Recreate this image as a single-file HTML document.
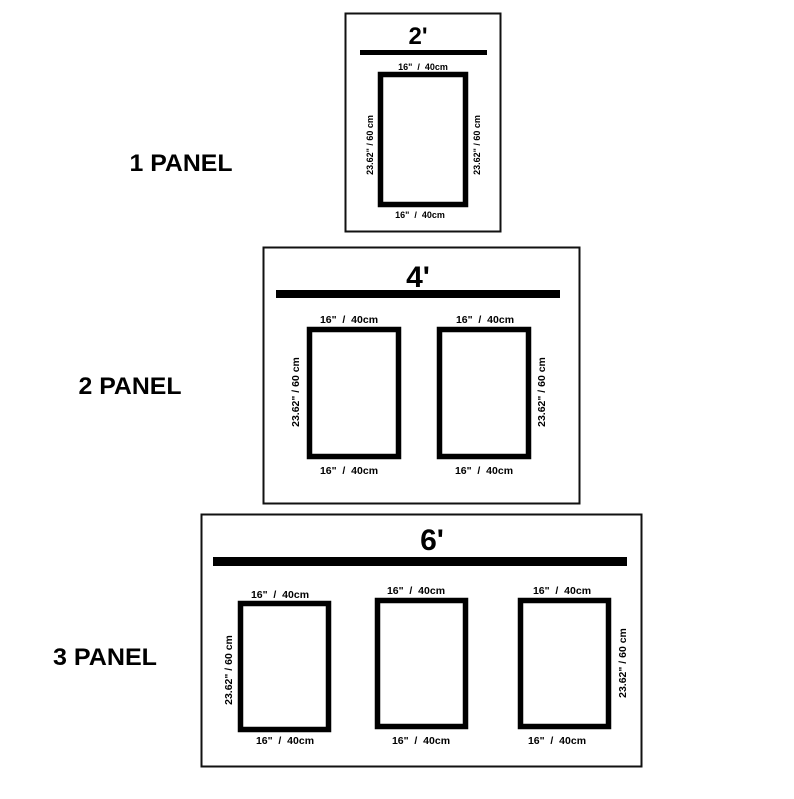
<!DOCTYPE html>
<html><head><style>body{margin:0;background:#fff}text{white-space:pre}</style></head><body>
<svg width="794" height="794" xmlns="http://www.w3.org/2000/svg" font-family="Liberation Sans, sans-serif" font-weight="bold" fill="#000">
<rect width="794" height="794" fill="#fff"/>
<g fill="none" stroke="#111">
<rect x="345.5" y="13.5" width="155" height="218" stroke-width="2"/>
<rect x="263.5" y="247.5" width="316" height="256" stroke-width="2"/>
<rect x="201.5" y="514.5" width="440" height="252" stroke-width="2"/>
<g stroke="#000" stroke-width="5.5">
<rect x="380.5" y="74.5" width="85" height="130"/>
<rect x="309.5" y="329.5" width="89" height="127"/>
<rect x="439.5" y="329.5" width="89" height="127"/>
<rect x="240.5" y="603.5" width="88" height="126"/>
<rect x="377.5" y="600.5" width="88" height="126"/>
<rect x="520.5" y="600.5" width="88" height="126"/>
</g>
</g>
<rect x="360" y="50" width="127" height="5"/>
<rect x="276" y="290" width="284" height="8"/>
<rect x="213" y="557" width="414" height="9"/>
<g text-anchor="middle">
<text x="418" y="44" font-size="24">2'</text>
<text x="418" y="287" font-size="30">4'</text>
<text x="432" y="550" font-size="30">6'</text>
<text x="181" y="171" font-size="24" textLength="103" lengthAdjust="spacingAndGlyphs">1 PANEL</text>
<text x="130" y="394" font-size="24" textLength="103" lengthAdjust="spacingAndGlyphs">2 PANEL</text>
<text x="105" y="665" font-size="24" textLength="104" lengthAdjust="spacingAndGlyphs">3 PANEL</text>
<g font-size="9">
<text x="423" y="70">16"  /  40cm</text>
<text x="420" y="218">16"  /  40cm</text>
<text x="373" y="145" transform="rotate(-90 373 145)">23.62" / 60 cm</text>
<text x="480" y="145" transform="rotate(-90 480 145)">23.62" / 60 cm</text>
</g>
<g font-size="10.5">
<text x="349" y="323">16"  /  40cm</text>
<text x="485" y="323">16"  /  40cm</text>
<text x="349" y="474">16"  /  40cm</text>
<text x="484" y="474">16"  /  40cm</text>
<text x="299" y="392" transform="rotate(-90 299 392)">23.62" / 60 cm</text>
<text x="545" y="392" transform="rotate(-90 545 392)">23.62" / 60 cm</text>
<text x="280" y="598">16"  /  40cm</text>
<text x="416" y="594">16"  /  40cm</text>
<text x="562" y="594">16"  /  40cm</text>
<text x="285" y="744">16"  /  40cm</text>
<text x="421" y="744">16"  /  40cm</text>
<text x="557" y="744">16"  /  40cm</text>
<text x="232" y="670" transform="rotate(-90 232 670)">23.62" / 60 cm</text>
<text x="626" y="663" transform="rotate(-90 626 663)">23.62" / 60 cm</text>
</g>
</g>
</svg>
</body></html>
